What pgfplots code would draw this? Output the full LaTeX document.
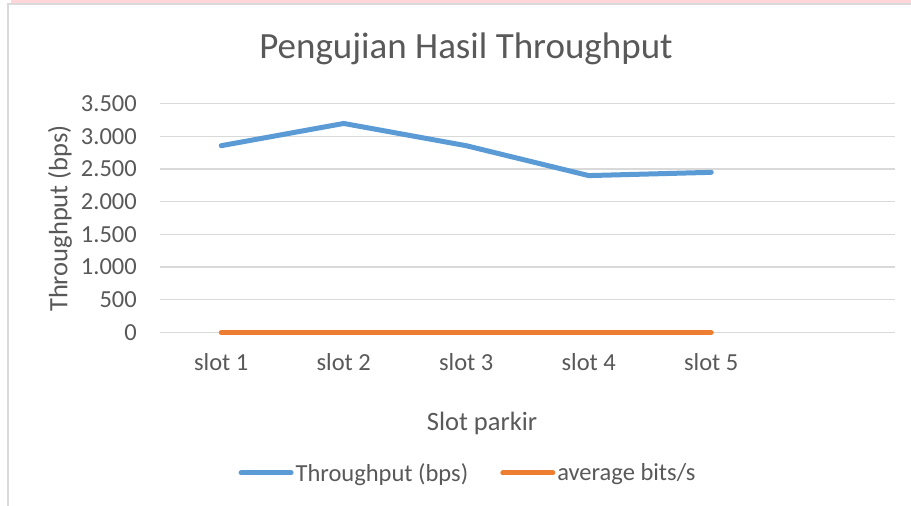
\documentclass[border=0pt]{standalone}
\usepackage{fontspec}
\setmainfont{Carlito}
\usepackage{pgfplots}
\pgfplotsset{compat=1.18}
\definecolor{txt}{HTML}{595959}
\definecolor{gridc}{HTML}{D9D9D9}
\definecolor{sblue}{HTML}{5B9BD5}
\definecolor{sorange}{HTML}{ED7D31}
\definecolor{pinkband}{HTML}{FFD7DB}
\definecolor{frame}{HTML}{DADADA}
\begin{document}
\begin{tikzpicture}[x=1pt,y=1pt]
\fill[white] (0,0) rectangle (911,506);
\fill[pinkband] (11,503) rectangle (911,506);
\fill[frame] (7,501) rectangle (911,503);
\fill[frame] (7,0) rectangle (9,503);
\begin{axis}[
  at={(160pt,173.5pt)}, anchor=south west,
  scale only axis, width=735pt, height=229pt,
  xmin=0, xmax=6, ymin=0, ymax=3500,
  ytick={0,500,...,3500},
  yticklabels={0,500,{1.000},{1.500},{2.000},{2.500},{3.000},{3.500}},
  xtick={0.5,1.5,2.5,3.5,4.5},
  xticklabels={slot 1,slot 2,slot 3,slot 4,slot 5},
  axis line style={draw=none},
  major tick length=0pt,
  ymajorgrids,
  grid style={gridc, line width=1.4pt},
  tick label style={font=\fontsize{24.5}{29}\selectfont, text=txt},
  yticklabel style={anchor=east, inner sep=0pt, xshift=-23pt},
  xticklabel style={anchor=north, inner sep=0pt, yshift=-21pt},
  clip=false,
  legend columns=2,
  legend style={at={(0.419,-0.6135)}, anchor=center, draw=none, fill=none,
    font=\fontsize{24.5}{29}\selectfont, text=txt, inner sep=0pt,
    /tikz/every even column/.append style={column sep=30pt},
    nodes={inner sep=2pt}},
  legend image code/.code={\draw[#1, line width=5pt, line cap=round] (0pt,0pt) -- (50pt,0pt);},
]
\addplot[sblue, line width=5pt, line cap=round, line join=round] coordinates {
  (0.5,2855) (1.5,3195) (2.5,2855) (3.5,2398) (4.5,2448)};
\addlegendentry{Throughput (bps)}
\addplot[sorange, line width=5pt, line cap=round, line join=round] coordinates {
  (0.5,0) (1.5,0) (2.5,0) (3.5,0) (4.5,0)};
\addlegendentry{average bits/s}
\end{axis}
\node[font=\fontsize{37}{44}\selectfont, text=txt] at (466,457) {Pengujian Hasil Throughput};
\node[font=\fontsize{26.5}{32}\selectfont, text=txt, rotate=90] at (60,287.5) {Throughput (bps)};
\node[font=\fontsize{26.5}{32}\selectfont, text=txt] at (482,83) {Slot parkir};
\end{tikzpicture}
\end{document}
